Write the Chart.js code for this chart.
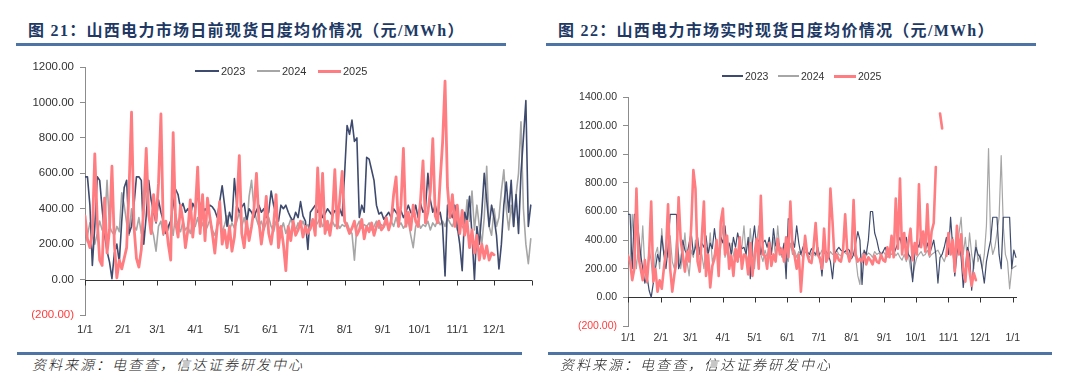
<!DOCTYPE html>
<html>
<head>
<meta charset="utf-8">
<script src="https://cdn.jsdelivr.net/npm/chart.js@4.4.1/dist/chart.umd.min.js"></script>
<style>
  body { margin: 0; width: 1080px; height: 383px; background: #fff; position: relative; overflow: hidden;
         font-family: "Liberation Sans", Arial, sans-serif; }
  .title { position: absolute; top: 21px; font-family: "Liberation Serif", "Noto Sans CJK SC", serif;
           font-weight: bold; font-size: 16px; letter-spacing: 1.3px; color: #203864; white-space: nowrap; line-height: 20px; }
  .rule { position: absolute; height: 3px; background: #4e74a6; }
  .source { position: absolute; top: 355px; font-family: "Noto Sans CJK SC", sans-serif; font-style: italic;
            font-weight: 300; font-size: 14px; letter-spacing: 2px; color: #222; line-height: 18px; white-space: nowrap; }
  canvas { position: absolute; top: 0; }
  .lg-line { position: absolute; }
  .lg-text { position: absolute; color: #333; line-height: 14px; white-space: nowrap; }
</style>
</head>
<body>
<div class="title" style="left:28px">图 21：山西电力市场日前现货日度均价情况（元/MWh）</div>
<div class="rule" style="left:16px; width:490px; top:43px"></div>
<div class="title" style="left:558px">图 22：山西电力市场实时现货日度均价情况（元/MWh）</div>
<div class="rule" style="left:546px; width:490px; top:43px"></div>

<canvas id="dayAhead" width="540" height="345" style="left:0"></canvas>
<canvas id="realTime" width="540" height="355" style="left:540px"></canvas>

<div id="legend1"></div>
<div id="legend2"></div>

<div class="rule" style="left:17px; width:505px; top:352px"></div>
<div class="rule" style="left:548px; width:504px; top:352px"></div>
<div class="source" style="left:32px">资料来源：电查查，信达证券研发中心</div>
<div class="source" style="left:560px">资料来源：电查查，信达证券研发中心</div>

<script>
// 月初所在的日序号，及横轴标签
const monthDays = [0, 31, 59, 90, 120, 151, 181, 212, 243, 273, 304, 334, 365];
const monthLabels = ['1/1', '2/1', '3/1', '4/1', '5/1', '6/1', '7/1', '8/1', '9/1', '10/1', '11/1', '12/1', '1/1'];
const years = ['2023', '2024', '2025'];
const STEP = 2; // 每两天读一个点

// 图21 日前现货 (元/MWh)
const dayAhead2023 = [
  580,580,420,80,300,580,560,400,250,160,
  100,5,150,200,100,330,520,560,260,300,
  420,580,580,560,200,360,560,450,380,320,
  450,380,330,260,300,330,420,510,480,400,
  430,380,400,360,430,400,480,420,370,400,
  380,420,410,390,350,440,530,420,300,380,
  330,570,420,380,410,430,330,400,380,350,
  390,420,380,400,350,380,500,420,370,330,
  420,400,420,380,350,330,380,350,440,360,
  330,170,380,400,420,380,400,350,370,400,
  380,360,390,380,400,360,600,870,820,900,
  780,800,350,420,380,690,680,620,560,420,
  370,380,340,360,380,350,400,380,360,390,
  350,380,420,380,360,420,350,430,380,400,
  600,450,380,420,360,380,300,20,420,380,
  350,420,300,200,50,380,330,470,250,0,
  300,200,380,600,450,300,420,350,250,60,
  200,420,550,380,560,300,480,260,600,800,
  1010,300,420
];
const dayAhead2024 = [
  200,250,320,280,200,260,330,280,300,560,
  300,270,250,300,270,490,420,320,250,400,
  300,280,350,260,380,560,350,300,250,160,
  300,330,250,310,280,330,250,370,300,270,
  330,280,300,260,330,300,350,280,320,270,
  300,340,280,250,300,330,270,310,360,280,
  320,290,330,380,300,350,280,470,560,400,
  340,300,330,280,320,350,300,270,330,300,
  280,320,260,300,340,310,280,320,300,330,
  290,310,280,330,300,320,350,300,320,280,
  310,330,300,320,290,310,300,320,280,260,
  110,300,330,290,310,300,320,280,300,330,
  290,310,300,320,290,330,300,350,300,320,
  290,310,330,250,180,300,330,290,310,300,
  330,280,320,300,340,310,330,300,350,320,
  300,340,280,320,300,280,450,330,500,280,
  420,300,200,350,640,300,250,400,300,350,
  500,620,400,280,420,300,480,600,890,400,
  200,90,230
];
const dayAhead2025 = [
  360,230,180,260,710,330,110,80,460,150,
  280,640,200,10,110,60,120,180,520,945,
  300,120,70,170,420,740,370,260,480,330,
  540,935,260,330,200,110,830,320,240,420,
  330,180,280,450,240,380,635,260,480,220,
  460,350,260,150,300,440,200,280,180,300,
  160,240,420,700,260,180,330,220,300,400,
  600,330,200,300,470,260,200,310,480,180,
  300,200,50,300,220,330,250,280,330,240,
  300,260,290,340,250,630,300,600,260,330,
  250,350,620,290,450,610,330,300,260,290,
  330,250,280,340,230,300,270,320,250,300,
  330,280,300,350,280,330,480,580,300,420,
  740,300,380,280,420,330,300,450,670,320,
  380,500,795,360,320,560,775,1120,520,350,
  480,300,420,260,390,250,330,180,280,150,
  250,110,200,120,190,110,150,140
];

// 图22 实时现货 (元/MWh)
const realTime2023 = [
  580,580,200,580,580,450,300,200,100,150,
  50,0,100,200,300,250,430,300,200,350,
  580,580,580,580,200,250,400,330,300,380,
  450,300,350,420,300,380,350,430,300,380,
  340,480,360,300,420,380,500,340,380,300,
  420,350,450,380,340,350,300,420,130,380,
  500,350,400,300,380,400,350,420,300,480,
  360,400,350,300,380,130,550,540,400,350,
  500,380,300,350,390,320,300,340,320,300,
  350,280,150,340,320,300,250,130,300,330,
  350,330,320,320,340,330,270,300,380,460,
  400,90,330,300,400,600,600,450,400,330,
  300,320,350,300,330,350,300,340,380,420,
  350,400,420,300,280,110,300,380,350,450,
  400,330,380,300,350,400,300,100,280,300,
  350,420,300,560,350,150,300,400,280,70,
  200,350,300,50,250,350,300,280,200,100,
  250,330,400,560,560,560,300,200,560,560,
  560,560,200,330,280
];
const realTime2024 = [
  300,250,580,350,200,400,250,500,200,100,
  350,250,100,300,350,200,480,300,350,280,
  430,250,200,400,300,200,300,450,250,150,
  330,280,400,250,350,300,200,350,280,450,
  250,300,380,230,350,500,280,330,250,380,
  300,250,330,280,350,500,300,250,480,300,
  200,380,500,300,250,330,280,350,300,420,
  280,500,330,280,350,300,250,380,300,330,
  280,320,300,280,320,300,280,310,300,290,
  320,300,330,310,300,280,320,300,310,330,
  300,290,320,310,300,290,320,300,280,150,
  90,300,320,290,310,300,280,320,300,310,
  290,320,300,280,310,300,330,290,310,280,
  260,300,250,300,200,130,220,280,300,320,
  290,300,330,280,300,310,320,330,300,280,
  250,300,350,300,420,250,350,450,560,300,
  420,250,450,300,200,400,250,300,200,300,
  500,1040,400,300,350,450,560,990,500,300,
  250,60,200,210,220
];
const realTime2025 = [
  290,250,120,200,760,280,200,120,260,110,
  300,670,110,200,40,120,60,200,320,650,
  200,40,160,250,700,400,290,180,320,250,
  500,890,760,250,180,420,670,150,300,70,
  220,270,400,150,530,620,300,430,200,290,
  150,340,250,420,200,300,290,160,380,150,
  300,410,200,710,300,290,200,380,220,300,
  250,410,300,340,250,420,280,670,350,290,
  200,300,40,250,430,300,250,240,350,520,
  300,270,200,480,250,280,760,530,250,300,
  260,250,330,580,320,250,300,680,300,250,
  270,250,300,230,280,260,230,290,250,240,
  300,260,250,350,280,430,280,690,340,830,
  300,450,270,380,480,260,380,300,790,350,
  460,320,650,300,460,520,910,null,1285,1180,
  null,290,450,300,400,180,500,300,440,200,
  110,320,180,80,170,120
];

const colors = ['#3f4b6e', '#a6a6a6', '#ff7c80'];

const toPoints = (vals) => vals.map((v, i) => ({ x: i * STEP, y: v }));

// 零值线和月份刻度
const zeroAxis = {
  id: 'zeroAxis',
  beforeDatasetsDraw(chart) {
    const { ctx, chartArea, scales } = chart;
    const y0 = Math.round(scales.y.getPixelForValue(0)) + 0.5;
    ctx.save();
    ctx.strokeStyle = '#333';
    ctx.lineWidth = 1;
    ctx.beginPath();
    ctx.moveTo(chartArea.left, y0);
    ctx.lineTo(chartArea.right, y0);
    monthDays.forEach(d => {
      const px = Math.round(scales.x.getPixelForValue(d)) + 0.5;
      ctx.moveTo(px, y0);
      ctx.lineTo(px, y0 + 5);
    });
    ctx.stroke();
    ctx.restore();
  }
};

function makeChart(id, series, opt) {
  const widths = [opt.thin, opt.thin, opt.thick];
  const order = [1, 2, 0];
  new Chart(document.getElementById(id), {
    type: 'line',
    data: {
      datasets: series.map((s, i) => ({
        label: years[i],
        data: toPoints(s),
        borderColor: colors[i],
        borderWidth: widths[i],
        borderJoinStyle: 'round',
        borderCapStyle: 'round',
        pointRadius: 0,
        tension: 0,
        spanGaps: false,
        order: order[i]
      }))
    },
    options: {
      responsive: false,
      animation: false,
      devicePixelRatio: 1,
      layout: { padding: opt.padding },
      plugins: { legend: { display: false }, tooltip: { enabled: false } },
      scales: {
        x: {
          type: 'linear',
          min: 0,
          max: opt.xMax,
          afterBuildTicks: s => { s.ticks = monthDays.slice(0, opt.labelCount).map(v => ({ value: v })); },
          ticks: {
            autoSkip: false, maxRotation: 0, padding: opt.xPad, color: '#333',
            font: { size: opt.font },
            callback: v => monthLabels[monthDays.indexOf(v)]
          },
          grid: { display: false, drawTicks: false },
          border: { display: false },
          afterFit: s => { s.height = 25; }
        },
        y: {
          min: -200,
          max: opt.yMax,
          afterBuildTicks: s => {
            const t = [];
            for (let v = -200; v <= opt.yMax; v += 200) t.push({ value: v });
            s.ticks = t;
          },
          ticks: {
            padding: 6,
            font: { size: opt.font },
            color: c => (c.tick.value < 0 ? '#ff3b3b' : '#333'),
            callback: v => (v < 0 ? '(' + Math.abs(v).toFixed(2) + ')' : v.toFixed(2))
          },
          grid: { drawOnChartArea: false, drawTicks: true, tickLength: 5, color: '#8c8c8c' },
          border: { color: '#8c8c8c' },
          afterFit: s => { s.width = opt.axisLeft; }
        }
      }
    },
    plugins: [zeroAxis]
  });
}

makeChart('dayAhead', [dayAhead2023, dayAhead2024, dayAhead2025], {
  xMax: 365, labelCount: 12, yMax: 1200, font: 11.5, thin: 1.6, thick: 2.8, xPad: 8,
  axisLeft: 85, padding: { left: 0, top: 67, right: 8, bottom: 5 }
});
makeChart('realTime', [realTime2023, realTime2024, realTime2025], {
  xMax: 369, labelCount: 13, yMax: 1400, font: 10.5, thin: 1.2, thick: 2.6, xPad: 6,
  axisLeft: 88, padding: { left: 0, top: 97, right: 63, bottom: 4 }
});

// 图例
function makeLegend(el, items, size, y) {
  const box = document.getElementById(el);
  items.forEach((it, i) => {
    const line = document.createElement('div');
    line.className = 'lg-line';
    const h = i === 2 ? 3 : 2;
    line.style.cssText = `left:${it.lx}px;width:${it.lw}px;top:${y - h / 2}px;height:${h}px;background:${colors[i]}`;
    const txt = document.createElement('div');
    txt.className = 'lg-text';
    txt.style.cssText = `left:${it.tx}px;top:${y - 7}px;font-size:${size}px`;
    txt.textContent = years[i];
    box.appendChild(line);
    box.appendChild(txt);
  });
}
makeLegend('legend1', [{ lx: 195, lw: 24, tx: 221 }, { lx: 257, lw: 23, tx: 282 }, { lx: 318, lw: 23, tx: 343 }], 11, 71);
makeLegend('legend2', [{ lx: 722, lw: 21, tx: 745 }, { lx: 778, lw: 21, tx: 801 }, { lx: 834, lw: 22, tx: 858 }], 10.5, 76);
</script>
</body>
</html>
